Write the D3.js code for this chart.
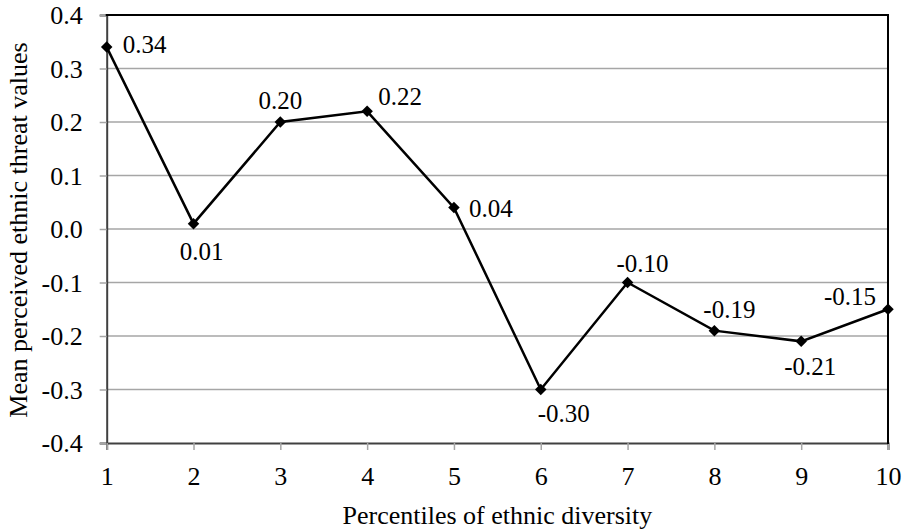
<!DOCTYPE html>
<html><head><meta charset="utf-8">
<script src="https://cdn.jsdelivr.net/npm/d3@7"></script>
<style>body{margin:0;background:#fff}svg{display:block}text{font-family:"Liberation Serif","Times New Roman",serif;fill:#000}</style>
</head><body>
<svg id="c" width="903" height="531"></svg>
<script>
// ---- data ----
const categories = [1,2,3,4,5,6,7,8,9,10];
const values = [0.34,0.01,0.20,0.22,0.04,-0.30,-0.10,-0.19,-0.21,-0.15];
const valueLabels = ["0.34","0.01","0.20","0.22","0.04","-0.30","-0.10","-0.19","-0.21","-0.15"];
const yTicks = [0.4,0.3,0.2,0.1,0.0,-0.1,-0.2,-0.3,-0.4];
const yTickLabels = ["0.4","0.3","0.2","0.1","0.0","-0.1","-0.2","-0.3","-0.4"];
const xTitle = "Percentiles of ethnic diversity";
const yTitle = "Mean perceived ethnic threat values";

// ---- layout ----
const labelOffsets = [[38,6],[8,36],[0,-13],[33,-6],[37,9],[23,32],[15,-11],[15,-12.5],[9,34],[-38,-4]];
const svg = d3.select("#c");
const L=106.7, R=888, T=15, B=443;
const x = d3.scaleLinear().domain([1,10]).range([L,R]);
const y = d3.scaleLinear().domain([-0.4,0.4]).range([B,T]);

// gridlines
svg.append("g").selectAll("line").data(yTicks.filter(d=>d>-0.4 && d<0.4)).join("line")
  .attr("x1",L).attr("x2",R).attr("y1",d=>y(d)).attr("y2",d=>y(d))
  .attr("stroke","#a6a6a6").attr("stroke-width",1.5);

// y axis
const yAx = svg.append("g").attr("transform",`translate(${L},0)`)
  .call(d3.axisLeft(y).tickValues(yTicks).tickFormat((d,i)=>yTickLabels[i]).tickSize(7).tickPadding(17));
yAx.select(".domain").attr("stroke","#404040").attr("stroke-width",2);
yAx.selectAll(".tick line").attr("stroke","#a6a6a6").attr("stroke-width",1.5);
yAx.selectAll("text").style("font-size","26px").style("font-family","Liberation Serif").attr("dy","0.33em");

// x axis
const xAx = svg.append("g").attr("transform",`translate(0,${B})`)
  .call(d3.axisBottom(x).tickValues(categories).tickFormat(d3.format("d")).tickSize(7).tickPadding(18));
xAx.select(".domain").attr("stroke","#404040").attr("stroke-width",2);
xAx.selectAll(".tick line").attr("stroke","#a6a6a6").attr("stroke-width",1.5);
xAx.selectAll("text").style("font-size","26px").style("font-family","Liberation Serif").attr("dy",null).attr("y",42);

// top and right borders
svg.append("line").attr("x1",L-1).attr("x2",R+1).attr("y1",T).attr("y2",T).attr("stroke","#000").attr("stroke-width",2);
svg.append("line").attr("x1",R).attr("x2",R).attr("y1",T).attr("y2",B+1).attr("stroke","#000").attr("stroke-width",2);

// line
const pts = categories.map((c,i)=>({c, v:values[i], lab:valueLabels[i], o:labelOffsets[i]}));
svg.append("path").datum(pts)
  .attr("d", d3.line().x(d=>x(d.c)).y(d=>y(d.v)))
  .attr("fill","none").attr("stroke","#000").attr("stroke-width",2.5);

svg.append("g").selectAll("path").data(pts).join("path")
  .attr("d", d3.symbol(d3.symbolSquare, 66))
  .attr("transform", d=>`translate(${x(d.c)},${y(d.v)}) rotate(45)`)
  .attr("fill","#000");

svg.append("g").selectAll("text").data(pts).join("text")
  .attr("x", d=>x(d.c)+d.o[0])
  .attr("y", d=>y(d.v)+d.o[1])
  .attr("text-anchor","middle")
  .style("font-size","25px")
  .text(d=>d.lab);

// titles
svg.append("text").attr("x",(L+R)/2).attr("y",524).attr("text-anchor","middle").style("font-size","26px").text(xTitle);
svg.append("text").attr("transform",`translate(27,${(T+B)/2+1}) rotate(-90)`).attr("text-anchor","middle").style("font-size","26px").text(yTitle);
</script>
</body></html>
